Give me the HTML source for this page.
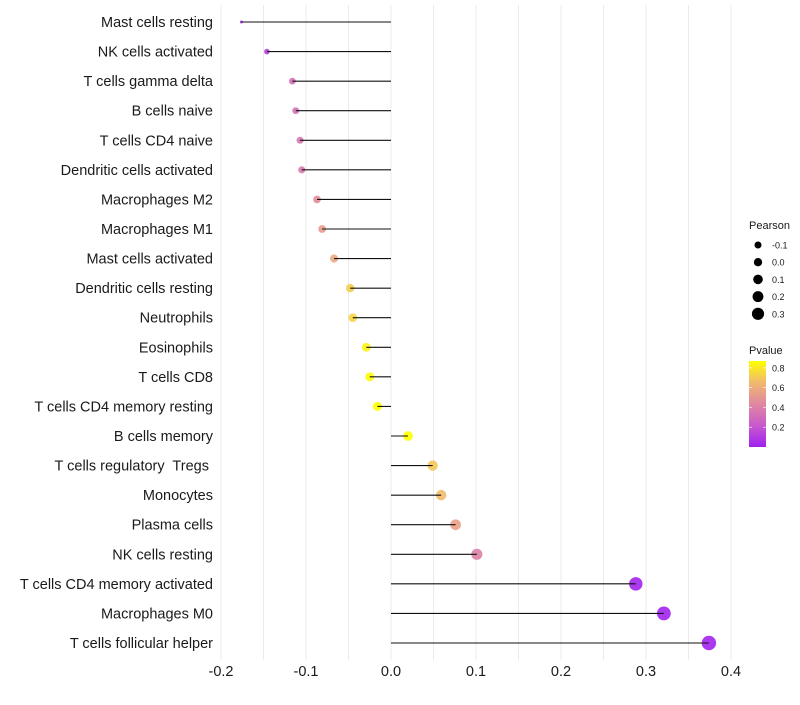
<!DOCTYPE html>
<html><head><meta charset="utf-8"><style>
body{margin:0;background:#fff;font-family:"Liberation Sans",Arial,sans-serif}
text{white-space:pre}
</style></head><body>
<svg id="c" width="800" height="700" xmlns="http://www.w3.org/2000/svg"></svg>
<script>
const categories=["Mast cells resting","NK cells activated","T cells gamma delta","B cells naive","T cells CD4 naive","Dendritic cells activated","Macrophages M2","Macrophages M1","Mast cells activated","Dendritic cells resting","Neutrophils","Eosinophils","T cells CD8","T cells CD4 memory resting","B cells memory","T cells regulatory  Tregs ","Monocytes","Plasma cells","NK cells resting","T cells CD4 memory activated","Macrophages M0","T cells follicular helper"];
const pearson=[-0.176,-0.146,-0.116,-0.112,-0.107,-0.105,-0.087,-0.081,-0.067,-0.048,-0.045,-0.029,-0.025,-0.016,0.020,0.049,0.059,0.076,0.101,0.288,0.321,0.374];
const pvalue=[0.05,0.12,0.32,0.33,0.36,0.37,0.45,0.52,0.58,0.72,0.74,0.83,0.86,0.9,0.87,0.7,0.66,0.55,0.4,0.01,0.01,0.01];
const xTicks=[-0.2,-0.1,0.0,0.1,0.2,0.3,0.4];
const sizeLegend=[-0.1,0.0,0.1,0.2,0.3];
const colorTicks=[0.2,0.4,0.6,0.8];
const svg=document.getElementById('c');const NS="http://www.w3.org/2000/svg";
function mk(t,a,p){const e=document.createElementNS(NS,t);for(const k in a)e.setAttribute(k,a[k]);(p||svg).appendChild(e);return e;}
const x=v=>391+v*850;
const y=i=>22+i*(621/21);
const stops=[[160,32,240],[200,90,205],[224,136,160],[241,184,112],[255,255,0]];
function col(p){let t=Math.max(0,Math.min(1,p/0.87))*4;let i=Math.min(3,Math.floor(t));let f=t-i;const a=stops[i],b=stops[i+1];return`rgb(${a.map((c,k)=>Math.round(c+(b[k]-c)*f)).join(',')})`;}
const rad=v=>1.5+5.7*Math.sqrt(Math.max(0,(v+0.176)/0.55));
for(let v=-0.2;v<=0.4001;v+=0.05){const g=mk('line',{x1:x(v),x2:x(v),y1:5,y2:660,stroke:'#ebebeb','stroke-width':1});

}
xTicks.forEach(v=>{const t=mk('text',{x:x(v),y:676,'text-anchor':'middle','font-size':14.5,fill:'#1a1a1a'});t.textContent=v.toFixed(1);

});
categories.forEach((c,i)=>{
const l=mk('text',{x:213,y:y(i)+5,'text-anchor':'end','font-size':14.5,fill:'#1a1a1a'});l.textContent=c;


const p=mk('circle',{cx:x(pearson[i]),cy:y(i),r:rad(pearson[i]),fill:col(pvalue[i]),opacity:0.9});


const s=mk('line',{x1:x(0),x2:x(pearson[i]),y1:y(i),y2:y(i),stroke:'#111','stroke-width':1.1});


});
const lt=mk('text',{x:749,y:229,'font-size':11,fill:'#1a1a1a'});lt.textContent='Pearson';


sizeLegend.forEach((v,i)=>{const cy=245+i*17.2;
const c=mk('circle',{cx:758,cy:cy,r:3.5+i*0.65,fill:'#000'});


const t=mk('text',{x:772,y:cy+3.5,'font-size':9,fill:'#1a1a1a'});t.textContent=v.toFixed(1);

});
const ct=mk('text',{x:749,y:354,'font-size':11,fill:'#1a1a1a'});ct.textContent='Pvalue';


const defs=mk('defs',{});const gr=mk('linearGradient',{id:'g',x1:0,y1:1,x2:0,y2:0},defs);
stops.forEach((s,i)=>mk('stop',{offset:i/4,'stop-color':`rgb(${s.join(',')})`},gr));
const bar=mk('rect',{x:749,y:361,width:17,height:86,fill:'url(#g)'});


colorTicks.forEach(v=>{const yy=447-v/0.87*86;
mk('line',{x1:749,x2:752,y1:yy,y2:yy,stroke:'#fff','stroke-width':0.6});mk('line',{x1:763,x2:766,y1:yy,y2:yy,stroke:'#fff','stroke-width':0.6});
const t=mk('text',{x:772,y:yy+3.5,'font-size':9,fill:'#1a1a1a'});t.textContent=v.toFixed(1);

});
</script>
</body></html>
